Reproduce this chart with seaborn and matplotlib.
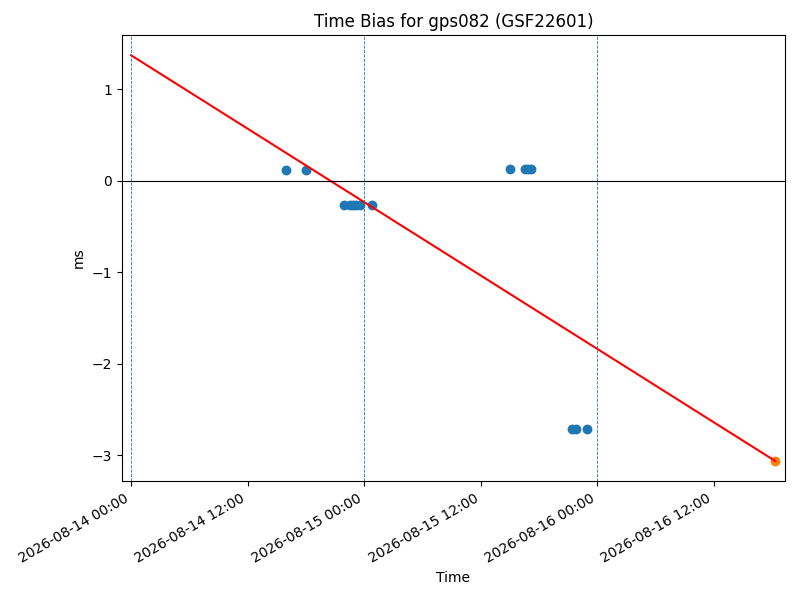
import matplotlib
matplotlib.use('Agg')
import matplotlib.pyplot as plt
import matplotlib.dates as mdates
import seaborn as sns
import pandas as pd

# 观测数据
obs_times = ['2026-08-14 16:00', '2026-08-14 18:00',
             '2026-08-14 21:56', '2026-08-14 22:33', '2026-08-14 22:52',
             '2026-08-14 23:10', '2026-08-14 23:35', '2026-08-15 00:50',
             '2026-08-15 15:02', '2026-08-15 16:35', '2026-08-15 16:53',
             '2026-08-15 17:12',
             '2026-08-15 21:25', '2026-08-15 21:50', '2026-08-15 22:58']
obs_bias = [0.12, 0.12,
            -0.26, -0.26, -0.26, -0.26, -0.26, -0.26,
            0.13, 0.13, 0.13, 0.13,
            -2.71, -2.71, -2.71]

# 拟合线和预测点
fit_times = ['2026-08-14 00:00', '2026-08-16 18:20']
fit_bias = [1.37, -3.06]
pred_time = ['2026-08-16 18:20']
pred_bias = [-3.06]

day_marks = ['2026-08-14', '2026-08-15', '2026-08-16']

obs = pd.DataFrame({'time': pd.to_datetime(obs_times), 'bias': obs_bias})
fit = pd.DataFrame({'time': pd.to_datetime(fit_times), 'bias': fit_bias})
pred = pd.DataFrame({'time': pd.to_datetime(pred_time), 'bias': pred_bias})

fig, ax = plt.subplots(figsize=(8, 6), dpi=100)
sns.lineplot(data=fit, x='time', y='bias', color='red', ax=ax)
sns.scatterplot(data=obs, x='time', y='bias', color='C0', s=50, linewidth=0, ax=ax)
sns.scatterplot(data=pred, x='time', y='bias', color='C1', s=50, linewidth=0, ax=ax)

ax.axhline(0, color='black', linewidth=0.8)
for d in pd.to_datetime(day_marks):
    ax.axvline(d, color='C0', linestyle='--', linewidth=0.6)

ax.set_xlim(pd.Timestamp('2026-08-13 23:04'), pd.Timestamp('2026-08-16 19:21'))
ax.xaxis.set_major_locator(mdates.HourLocator(byhour=[0, 12]))
ax.xaxis.set_major_formatter(mdates.DateFormatter('%Y-%m-%d %H:%M'))
ax.set_title('Time Bias for gps082 (GSF22601)')
ax.set_xlabel('Time')
ax.set_ylabel('ms')
fig.autofmt_xdate()
fig.subplots_adjust(left=0.1525, right=0.98125, top=0.9417, bottom=0.198)
plt.savefig('out.png', dpi=100)
plt.close()
